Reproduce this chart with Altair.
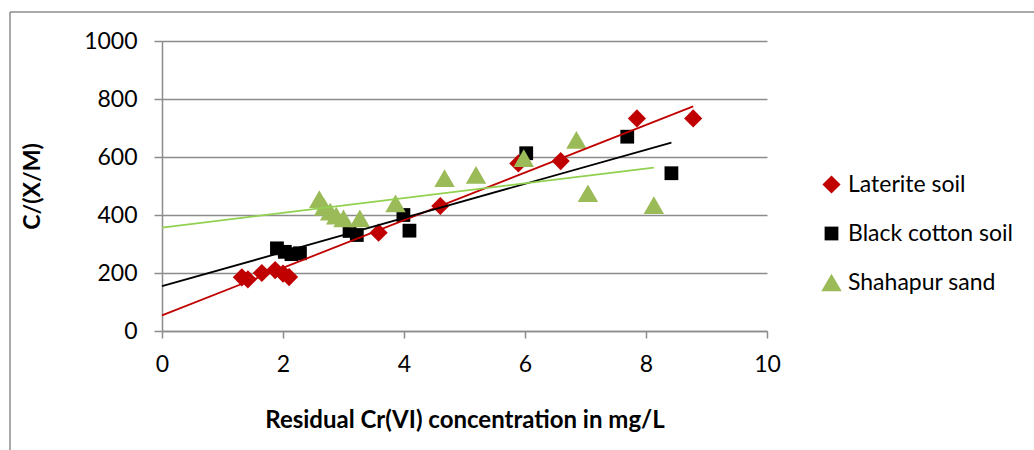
import altair as alt
import pandas as pd

# Laterite soil
lat_x = [1.32, 1.42, 1.65, 1.87, 2.00, 2.10, 3.58, 4.60, 5.89, 6.59, 7.85, 8.78]
lat_y = [185, 178, 200, 210, 198, 186, 339, 431, 578, 586, 733, 733]
# Black cotton soil
bcs_x = [1.90, 2.03, 2.14, 2.28, 3.10, 3.22, 3.99, 4.09, 6.02, 7.69, 8.42]
bcs_y = [285, 273, 265, 268, 345, 331, 400, 346, 613, 670, 544]
# Shahapur sand
sha_x = [2.60, 2.68, 2.78, 2.88, 3.00, 3.27, 3.86, 4.67, 5.19, 5.98, 6.85, 7.04, 8.13]
sha_y = [455, 428, 412, 398, 388, 388, 440, 527, 538, 596, 659, 475, 434]

series_names = ["Laterite soil", "Black cotton soil", "Shahapur sand"]
series_x = [lat_x, bcs_x, sha_x]
series_y = [lat_y, bcs_y, sha_y]
marker_colors = ["#C00000", "#000000", "#9BBB59"]
marker_shapes = ["diamond", "square", "triangle-up"]
marker_sizes = [330, 190, 420]
trend_colors = ["#C00000", "#000000", "#92D050"]

x_ticks = [0, 2, 4, 6, 8, 10]
y_ticks = [0, 200, 400, 600, 800, 1000]

rows = []
for name, xs, ys in zip(series_names, series_x, series_y):
    for xv, yv in zip(xs, ys):
        rows.append({"series": name, "x": xv, "y": yv})
df = pd.DataFrame(rows)

FONT = "Lato"
GREY = "#8c8c8c"

x_enc = alt.X(
    "x:Q",
    scale=alt.Scale(domain=[0, 10], nice=False),
    axis=alt.Axis(
        values=x_ticks, grid=False, format="d", labelFlush=False,
        domainColor=GREY, domainWidth=1.5,
        tickColor=GREY, tickWidth=1.5, tickSize=7,
        labelFont=FONT, labelFontSize=23, labelColor="black", labelPadding=15,
        title="Residual Cr(VI) concentration in mg/L",
        titleFont=FONT, titleFontSize=24, titleFontWeight="bold", titleColor="black",
        titleX=302.5, titleY=89, titleAlign="center", titleBaseline="middle",
    ),
)
y_enc = alt.Y(
    "y:Q",
    scale=alt.Scale(domain=[0, 1000], nice=False),
    axis=alt.Axis(
        values=y_ticks, grid=True, gridColor=GREY, gridWidth=1.5, format="d",
        labelFlush=False,
        domainColor=GREY, domainWidth=1.5,
        tickColor=GREY, tickWidth=1.5, tickSize=8,
        labelFont=FONT, labelFontSize=23, labelColor="black", labelPadding=17,
        title="C/(X/M)",
        titleFont=FONT, titleFontSize=23, titleFontWeight="bold", titleColor="black",
        titleX=-130, titleY=145, titleAlign="center", titleBaseline="middle", titleAngle=-90,
    ),
)

points = alt.Chart(df).mark_point(filled=True, opacity=1, strokeWidth=0).encode(
    x=x_enc,
    y=y_enc,
    color=alt.Color(
        "series:N",
        scale=alt.Scale(domain=series_names, range=marker_colors),
        sort=series_names,
        legend=alt.Legend(
            title=None, orient="none", legendX=658, legendY=132,
            labelFont=FONT, labelFontSize=23, labelColor="black", labelLimit=400,
            symbolSize=150, rowPadding=25, labelOffset=5, symbolStrokeWidth=0,
        ),
    ),
    shape=alt.Shape(
        "series:N",
        scale=alt.Scale(domain=series_names, range=marker_shapes),
        sort=series_names,
    ),
    size=alt.Size(
        "series:N",
        scale=alt.Scale(type="ordinal", domain=series_names, range=marker_sizes),
        legend=None,
    ),
)

# Linear trend lines, extended back to x = 0 as in the spreadsheet chart
trends = []
for name, xs, col in zip(series_names, series_x, trend_colors):
    trends.append(
        alt.Chart(df)
        .transform_filter(alt.datum.series == name)
        .transform_regression("x", "y", extent=[0, max(xs)])
        .mark_line(color=col, strokeWidth=1.8)
        .encode(x="x:Q", y="y:Q")
    )

# Outer chart frame (left and top edges)
frame_df = pd.DataFrame({"k": [0]})
frame_left = alt.Chart(frame_df).mark_rule(color=GREY, strokeWidth=1.5).encode(
    x=alt.value(-152), y=alt.value(-29), y2=alt.value(420)
)
frame_top = alt.Chart(frame_df).mark_rule(color=GREY, strokeWidth=1.5).encode(
    x=alt.value(-152), x2=alt.value(880), y=alt.value(-29)
)

chart = (
    alt.layer(frame_left, frame_top, points, *trends)
    .properties(
        width=605, height=290,
        padding={"left": 162, "top": 41, "right": 267, "bottom": 119},
        autosize=alt.AutoSizeParams(type="none"),
        background="white",
    )
    .configure_view(stroke=None)
)

chart.save("out.html", embed_options={"renderer": "svg", "actions": False})
